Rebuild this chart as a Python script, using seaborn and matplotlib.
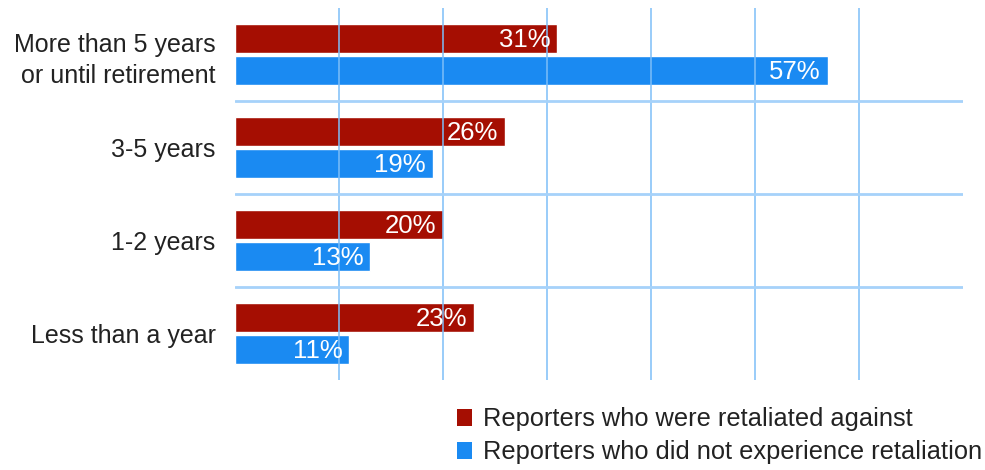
import matplotlib
matplotlib.use("Agg")
import matplotlib.pyplot as plt
import seaborn as sns
import pandas as pd
from matplotlib.patches import Patch

categories = ["More than 5 years\nor until retirement", "3-5 years", "1-2 years", "Less than a year"]
series_names = ["Reporters who were retaliated against", "Reporters who did not experience retaliation"]
retaliated = [31, 26, 20, 23]
not_retaliated = [57, 19, 13, 11]
colors = ["#A50E02", "#1A8AF2"]

df = pd.DataFrame({
    "category": categories * 2,
    "series": [series_names[0]] * 4 + [series_names[1]] * 4,
    "value": retaliated + not_retaliated,
})

sns.set_theme(style="white")
plt.rcParams["font.family"] = ["Liberation Sans", "DejaVu Sans"]

fig = plt.figure(figsize=(9.85, 4.7), dpi=100)
ax = fig.add_axes([235/985, 1-380/470, (963-235)/985, (380-8)/470])

sns.barplot(data=df, y="category", x="value", hue="series", order=categories,
            hue_order=series_names, palette=colors, orient="h", width=0.68, gap=0.09,
            saturation=1, legend=False, ax=ax, zorder=3)

ax.set_xlim(0, 70)
ax.set_ylim(3.5, -0.5)
for xv in range(10, 70, 10):
    ax.axvline(xv, color="#7DBEF8", lw=1.1, zorder=4)
for yv in [0.5, 1.5, 2.5]:
    ax.axhline(yv, color="#A6D2FA", lw=2, zorder=4)

for p in ax.patches:
    w = p.get_width()
    if w <= 0:
        continue
    ax.annotate(f"{w:.0f}%", (w, p.get_y() + p.get_height()/2), xytext=(-5, -1),
                textcoords="offset points", ha="right", va="center", color="white",
                fontsize=18.5, zorder=5)

for s in ax.spines.values():
    s.set_visible(False)
ax.set_xticks([])
ax.set_xlabel("")
ax.set_ylabel("")
ax.tick_params(axis="y", length=0, pad=14, labelsize=18, labelcolor="#222222")
for t in ax.get_yticklabels():
    t.set_horizontalalignment("right")
    t.set_multialignment("right")
    t.set_linespacing(1.35)

handles = [Patch(facecolor=c, edgecolor="none") for c in colors]
fig.legend(handles, series_names, loc="upper left", bbox_to_anchor=(457/985, 1-407/470),
           frameon=False, fontsize=18.3, handlelength=0.6, handleheight=0.66,
           handletextpad=0.42, labelspacing=0.36, borderpad=0, borderaxespad=0,
           labelcolor="#222222")

fig.savefig("out.png", dpi=100)
